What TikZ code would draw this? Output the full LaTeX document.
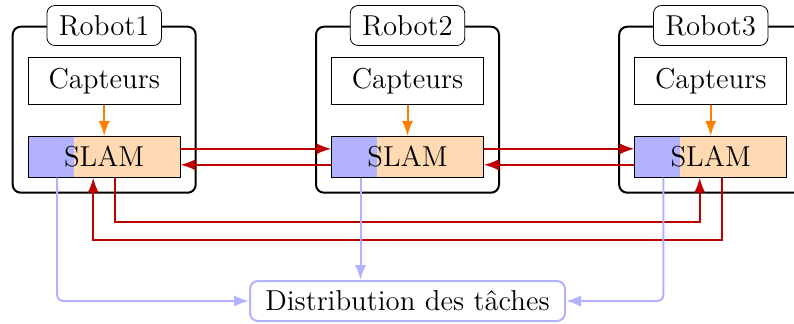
\documentclass[tikz,border=0pt]{standalone}
\usetikzlibrary{arrows.meta,calc}
\definecolor{darkred}{rgb}{0.75,0,0}
\tikzset{
  robotbox/.style={draw=black,line width=1pt,rounded corners=4pt,minimum width=91.5pt,minimum height=83pt,inner sep=0pt},
  robotlabel/.style={draw=black,line width=0.4pt,fill=white,rounded corners=4pt,minimum width=57.3pt,minimum height=20pt,inner sep=0pt,font=\Large},
  capbox/.style={draw=black,line width=0.4pt,fill=white,minimum width=75.85pt,minimum height=23.5pt,inner sep=0pt,font=\Large},
  slambox/.style={draw=black,line width=0.4pt,fill=orange!30,minimum width=75.85pt,minimum height=20.5pt,inner sep=0pt,font=\Large,
    path picture={\fill[blue!30] (path picture bounding box.south west) rectangle ($(path picture bounding box.north west)!0.3!(path picture bounding box.north east)$);}},
  distbox/.style={draw=blue!30,line width=1pt,fill=white,rounded corners=4pt,minimum width=157.5pt,minimum height=20pt,inner sep=0pt,font=\Large},
  orangearrow/.style={draw=orange,line width=1pt,-{Latex}},
  redarrow/.style={draw=darkred,line width=1pt,-{Latex}},
  bluearrow/.style={draw=blue!30,line width=1pt,-{Latex},rounded corners=3pt},
}
\begin{document}
\begin{tikzpicture}[x=0.5pt,y=-0.5pt]
\useasboundingbox (0,0) rectangle (794,323);
\clip (0,0) rectangle (794,323);
\foreach \i/\cx in {1/104.2,2/407.5,3/710.7}{
  \node[robotbox] (rb\i) at (\cx,109.7) {};
  \node[robotlabel] (rl\i) at (\cx,25.5) {Robot\i};
  \node[capbox] (c\i) at (\cx,80.8) {Capteurs};
  \node[slambox] (s\i) at (\cx,156.8) {SLAM};
  \draw[orangearrow] (c\i.south) -- (s\i.north);
}
\node[distbox] (dist) at (407.5,301) {Distribution des t\^aches};
% horizontal red arrows
\draw[redarrow] ([yshift=4pt]s1.east) -- ([yshift=4pt]s2.west);
\draw[redarrow] ([yshift=-4pt]s2.west) -- ([yshift=-4pt]s1.east);
\draw[redarrow] ([yshift=4pt]s2.east) -- ([yshift=4pt]s3.west);
\draw[redarrow] ([yshift=-4pt]s3.west) -- ([yshift=-4pt]s2.east);
% bottom loops
\coordinate (a1) at ([xshift=5.5pt]s1.south);
\coordinate (a3) at ([xshift=-5.5pt]s3.south);
\coordinate (b3) at ([xshift=5.6pt]s3.south);
\coordinate (b1) at ([xshift=-5.5pt]s1.south);
\draw[redarrow] (a1) -- ++(0,44.4) -| (a3);
\draw[redarrow] (b3) -- ++(0,62.7) -| (b1);
% blue lines to task distribution
\coordinate (d1) at ([xshift=-23.5pt]s1.south);
\coordinate (d2) at ([xshift=-23.5pt]s2.south);
\coordinate (d3) at ([xshift=-23.7pt]s3.south);
\draw[bluearrow] (d1) |- (dist.west);
\draw[bluearrow] (d2) -- (d2 |- dist.north);
\draw[bluearrow] (d3) |- (dist.east);
\end{tikzpicture}
\end{document}
